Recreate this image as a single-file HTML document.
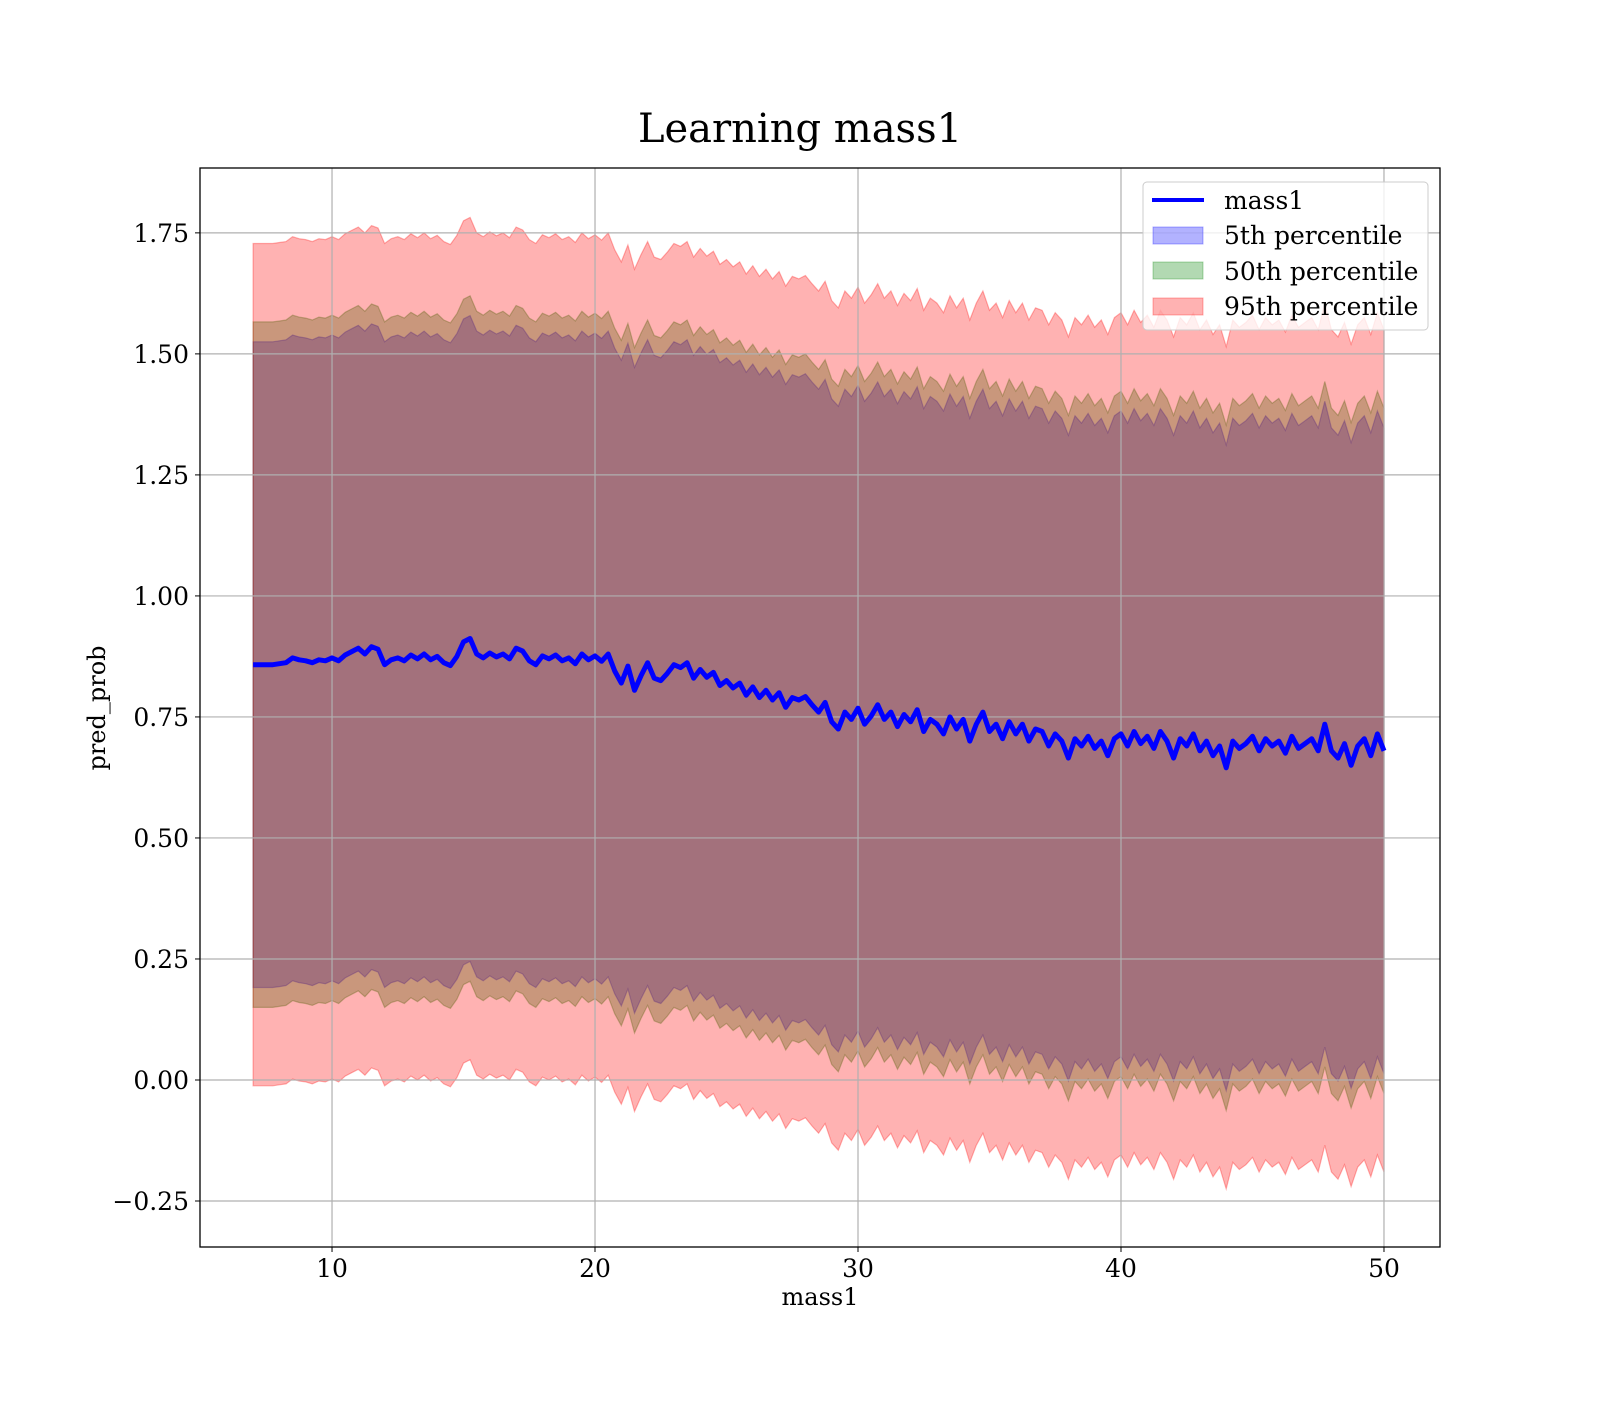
<!DOCTYPE html>
<html><head><meta charset="utf-8"><style>
body{margin:0;background:#fff;}
svg text{font-family:"DejaVu Serif","Liberation Serif",serif;}
</style></head><body>
<svg id="chart" width="1600" height="1400" xmlns="http://www.w3.org/2000/svg">
<rect width="1600" height="1400" fill="#fff"/>
<text x="800" y="142" font-size="40" text-anchor="middle">Learning mass1</text>
<g id="bands"></g>
<g id="grid"></g>
<g id="lines"></g>
<rect x="200" y="168" width="1240" height="1079" fill="none" stroke="#000" stroke-width="1.3"/>
<g id="ticks"></g>
<text x="820" y="1305" font-size="24" text-anchor="middle">mass1</text>
<text x="0" y="0" font-size="24" text-anchor="middle" transform="translate(105,708) rotate(-90)">pred_prob</text>
<g>
<rect x="1143" y="182" width="285" height="148" rx="4" fill="#fff" fill-opacity="0.8" stroke="#ccc"/>
<line x1="1152" y1="200" x2="1204" y2="200" stroke="#0000ff" stroke-width="4"/>
<text x="1224" y="209" font-size="25">mass1</text>
<rect x="1153" y="227" width="50" height="17" fill="#0000ff" fill-opacity="0.3" stroke="#0000ff" stroke-opacity="0.3"/>
<text x="1224" y="244" font-size="25">5th percentile</text>
<rect x="1153" y="262" width="50" height="17" fill="#008000" fill-opacity="0.3" stroke="#008000" stroke-opacity="0.3"/>
<text x="1224" y="280" font-size="25">50th percentile</text>
<rect x="1153" y="298" width="50" height="17" fill="#ff0000" fill-opacity="0.3" stroke="#ff0000" stroke-opacity="0.3"/>
<text x="1224" y="315" font-size="25">95th percentile</text>
</g>
</svg>
<script>
const xStart = 7;
const xStep = 0.25;
const meanValues = [
.858,.858,.858,.858, .860,.862,.872,.868, .866,.862,.868,.866,
.872,.866,.878,.885, .892,.880,.895,.890, .858,.868,.872,.866,
.878,.870,.880,.868, .875,.862,.856,.875, .905,.912,.880,.872,
.882,.874,.880,.870, .892,.886,.866,.858, .876,.870,.878,.866,
.872,.860,.880,.868, .876,.865,.880,.845, .820,.855,.805,.835,
.862,.830,.825,.840, .858,.852,.862,.830, .848,.832,.842,.815,
.825,.810,.820,.795, .812,.790,.805,.785, .800,.770,.790,.785,
.792,.775,.760,.780, .740,.725,.760,.745, .768,.735,.752,.775,
.745,.760,.730,.755, .740,.765,.720,.745, .735,.715,.750,.725,
.745,.700,.735,.760, .720,.735,.705,.740, .715,.735,.700,.725,
.720,.690,.715,.700, .665,.705,.690,.710, .685,.700,.670,.705,
.715,.690,.720,.695, .710,.685,.720,.700, .665,.705,.690,.715,
.680,.700,.670,.690, .645,.700,.685,.695, .710,.680,.705,.690,
.700,.675,.710,.685, .695,.705,.680,.735, .680,.665,.695,.650,
.690,.705,.670,.715, .680];
const bandHalfWidths = [0.667, 0.708, 0.870];
const bandNames = ["band-5th", "band-50th", "band-95th"];
const bandColors = ["#0000ff", "#008000", "#ff0000"];
const xTicks = [10, 20, 30, 40, 50];
const yTicks = [-0.25, 0, 0.25, 0.5, 0.75, 1.0, 1.25, 1.5, 1.75];
const yTickLabels = ["\u22120.25","0.00","0.25","0.50","0.75","1.00","1.25","1.50","1.75"];

const X0=200,X1=1440,Y0=168,Y1=1247;
const xMin=4.98,xMax=52.13,yMin=-0.345,yMax=1.884;
const sx=v=>X0+(v-xMin)/(xMax-xMin)*(X1-X0);
const sy=v=>Y1-(v-yMin)/(yMax-yMin)*(Y1-Y0);
const NS="http://www.w3.org/2000/svg";
const mk=(t,a,p)=>{const e=document.createElementNS(NS,t);for(const k in a)e.setAttribute(k,a[k]);p.appendChild(e);return e;};
const grid=document.getElementById('grid'),ticks=document.getElementById('ticks');
xTicks.forEach(v=>{
  const l=mk('line',{x1:sx(v),x2:sx(v),y1:Y0,y2:Y1,stroke:'#b0b0b0','stroke-width':1.2},grid);
  
  
  const t=mk('line',{x1:sx(v),x2:sx(v),y1:Y1,y2:Y1+5,stroke:'#000'},ticks);
  
  
  const tx=mk('text',{x:sx(v),y:Y1+30,'font-size':25,'text-anchor':'middle'},ticks);
  tx.textContent=String(v);
  
  
});
yTicks.forEach((v,i)=>{
  const l=mk('line',{x1:X0,x2:X1,y1:sy(v),y2:sy(v),stroke:'#b0b0b0','stroke-width':1.2},grid);
  
  
  const t=mk('line',{x1:X0-5,x2:X0,y1:sy(v),y2:sy(v),stroke:'#000'},ticks);
  
  
  const tx=mk('text',{x:X0-11,y:sy(v)+9,'font-size':25,'text-anchor':'end'},ticks);
  tx.textContent=yTickLabels[i];
  
  
});
const xs=meanValues.map((_,i)=>xStart+i*xStep);
const bands=document.getElementById('bands');
bandHalfWidths.forEach((w,b)=>{
  let d='';
  xs.forEach((x,i)=>{d+=(i?'L':'M')+sx(x).toFixed(1)+','+sy(meanValues[i]+w).toFixed(1);});
  for(let i=xs.length-1;i>=0;i--)d+='L'+sx(xs[i]).toFixed(1)+','+sy(meanValues[i]-w).toFixed(1);
  d+='Z';
  const p=mk('path',{d:d,fill:bandColors[b],'fill-opacity':0.3,stroke:bandColors[b],'stroke-opacity':0.3,'stroke-width':1.2},bands);
  
  
});
let ld='';
xs.forEach((x,i)=>{ld+=(i?'L':'M')+sx(x).toFixed(1)+','+sy(meanValues[i]).toFixed(1);});
const line=mk('path',{d:ld,fill:'none',stroke:'#0000ff','stroke-width':5,'stroke-linejoin':'round'},document.getElementById('lines'));


</script>
</body></html>
